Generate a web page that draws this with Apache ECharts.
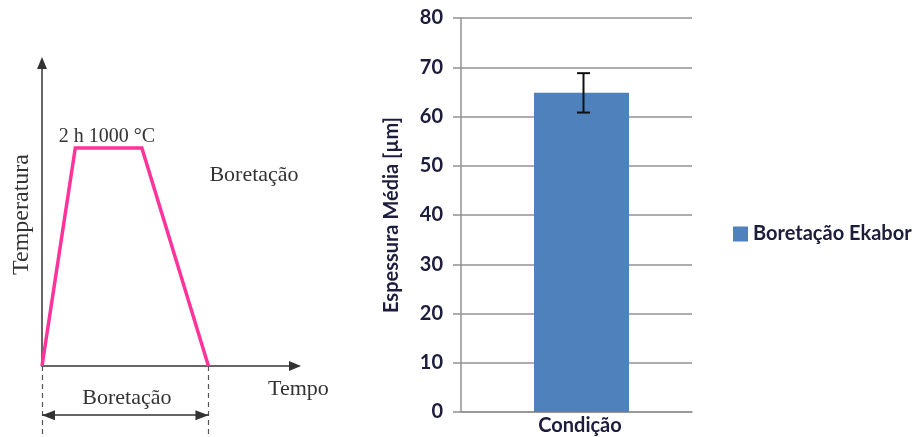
<!DOCTYPE html>
<html>
<head>
<meta charset="utf-8">
<script src="https://cdn.jsdelivr.net/npm/echarts@6/dist/echarts.min.js"></script>
<style>
  html, body { margin: 0; padding: 0; background: #fff; }
  #chart { width: 915px; height: 437px; }
</style>
</head>
<body>
<div id="chart"></div>
<script>
// Thermal cycle of the boriding treatment (schematic)
const profileTime = [0, 1, 3, 5];          // h
const profileTemp = [0, 1000, 1000, 0];    // °C
const holdLabel = '2 h 1000 °C';
const stageLabel = 'Boretação';

// Average boride layer thickness
const categories = ['Condição'];
const seriesName = 'Boretação Ekabor';
const thickness = [64.8];                  // µm
const thicknessErr = [4.0];                // µm

const serif = 'Liberation Serif, Times New Roman, serif';
const sans = 'Lato, Noto Sans, sans-serif';
const navy = '#1c1c3c';
const grey = '#929292';
const ink = '#333333';
const triangle = 'path://M5,0 L10,12 L0,12 Z';

const chart = echarts.init(document.getElementById('chart'), null, { renderer: 'canvas' });

const profile = profileTime.map((t, i) => [t, profileTemp[i]]);
const tStart = profileTime[0];
const tEnd = profileTime[profileTime.length - 1];
const tMid = (profileTime[1] + profileTime[2]) / 2;
const tHoldMax = profileTemp[1];

const hiddenAxis = { show: false };

chart.setOption({
  animation: false,
  backgroundColor: '#ffffff',
  grid: [
    { left: 42, top: 63, width: 253, height: 303 },   // thermal cycle
    { left: 461, top: 18, width: 231, height: 394 },  // thickness bars
    { left: 42, top: 366, width: 253, height: 69 }    // duration bracket under the cycle
  ],
  xAxis: [
    {
      gridIndex: 0, type: 'value', min: 0, max: 7.6,
      name: 'Tempo', nameLocation: 'end', nameGap: -27,
      nameTextStyle: { fontFamily: serif, fontSize: 22, color: ink, verticalAlign: 'top', padding: [12, 0, 0, 0] },
      axisLine: { show: true, onZero: true, symbol: ['none', triangle], symbolSize: [10, 13], lineStyle: { color: ink, width: 1.5 } },
      axisTick: { show: false }, axisLabel: { show: false }, splitLine: { show: false }
    },
    {
      gridIndex: 1, type: 'category', data: categories,
      axisLine: { show: true, lineStyle: { color: grey, width: 1.5 } },
      axisTick: { show: false },
      axisLabel: { margin: 4, padding: [0, 0, 0, 7], fontFamily: sans, fontWeight: 'bold', fontSize: 20, color: navy }
    },
    Object.assign({ gridIndex: 2, type: 'value', min: 0, max: 7.6 }, hiddenAxis)
  ],
  yAxis: [
    {
      gridIndex: 0, type: 'value', min: 0, max: 1390,
      name: 'Temperatura', nameLocation: 'middle', nameGap: 8, nameRotate: 90,
      nameTextStyle: { fontFamily: serif, fontSize: 24, color: ink },
      axisLine: { show: true, onZero: true, symbol: ['none', triangle], symbolSize: [10, 13], lineStyle: { color: ink, width: 1.5 } },
      axisTick: { show: false }, axisLabel: { show: false }, splitLine: { show: false }
    },
    {
      gridIndex: 1, type: 'value', min: 0, max: 80, interval: 10,
      name: 'Espessura Média [µm]', nameLocation: 'middle', nameGap: 59, nameRotate: 90,
      nameTextStyle: { fontFamily: sans, fontWeight: 'bold', fontSize: 20, color: navy },
      axisLine: { show: true, lineStyle: { color: grey, width: 1.5 } },
      axisTick: { show: true, inside: false, length: 8, lineStyle: { color: grey, width: 1.5 } },
      axisLabel: { margin: 18, fontFamily: sans, fontWeight: 'bold', fontSize: 20, color: navy },
      splitLine: { show: true, lineStyle: { color: grey, width: 1.5 } }
    },
    Object.assign({ gridIndex: 2, type: 'value', min: -316, max: 0 }, hiddenAxis)
  ],
  legend: {
    data: [seriesName],
    orient: 'vertical', left: 733, top: 224, padding: 0,
    itemWidth: 15, itemHeight: 15, itemGap: 5, icon: 'rect',
    textStyle: { fontFamily: sans, fontWeight: 'bold', fontSize: 20, color: navy }
  },
  series: [
    {
      type: 'line', xAxisIndex: 0, yAxisIndex: 0, data: profile,
      silent: true, symbol: 'none',
      lineStyle: { color: '#ff3399', width: 3.5, join: 'miter' },
      markPoint: {
        silent: true, symbol: 'circle', symbolSize: 0, animation: false,
        label: { show: true, fontFamily: serif, fontSize: 22, color: ink },
        data: [
          { coord: [tMid - 0.05, tHoldMax], value: holdLabel, label: { position: 'top', distance: 1, formatter: holdLabel, fontSize: 20 } },
          { coord: [tEnd, 876], value: stageLabel, label: { position: 'right', distance: 1, formatter: stageLabel } }
        ]
      }
    },
    {
      // dashed limits of the treatment and its duration arrow
      type: 'line', xAxisIndex: 2, yAxisIndex: 2, data: [[tStart, 0]],
      silent: true, symbol: 'none', lineStyle: { width: 0 },
      markLine: {
        silent: true, symbol: 'none', animation: false,
        label: { show: false },
        lineStyle: { color: '#555', width: 1.2, type: [5, 4] },
        data: [
          [{ coord: [tStart, 0] }, { coord: [tStart, -316] }],
          [{ coord: [tEnd, 0] }, { coord: [tEnd, -316] }],
          [
            { coord: [tStart, -225], symbol: triangle, symbolSize: [10, 13], symbolOffset: [0, 6.5], lineStyle: { type: 'solid', color: ink, width: 1.5 } },
            { coord: [tEnd, -225], symbol: triangle, symbolSize: [10, 13], symbolOffset: [0, 6.5] }
          ]
        ]
      },
      markPoint: {
        silent: true, symbol: 'circle', symbolSize: 0, animation: false,
        label: { show: true, fontFamily: serif, fontSize: 22, color: ink },
        data: [
          { coord: [tEnd / 2 + 0.05, -147], value: stageLabel, label: { position: 'inside', formatter: stageLabel } }
        ]
      }
    },
    {
      name: seriesName, type: 'custom', xAxisIndex: 1, yAxisIndex: 1,
      data: thickness.map((v, i) => [i, v]),
      encode: { x: 0, y: 1 },
      itemStyle: { color: '#4f81bd' },
      renderItem: function (params, api) {
        const top = api.coord([api.value(0), api.value(1)]);
        const base = api.coord([api.value(0), 0]);
        const w = 95, shift = 5;
        return {
          type: 'rect',
          shape: { x: top[0] - w / 2 + shift, y: top[1], width: w, height: base[1] - top[1] },
          style: { fill: api.visual('color') }
        };
      }
    },
    {
      name: 'erro', type: 'custom', xAxisIndex: 1, yAxisIndex: 1, z: 5,
      data: thickness.map((v, i) => [i, v - thicknessErr[i], v + thicknessErr[i]]),
      encode: { x: 0, y: [1, 2] },
      renderItem: function (params, api) {
        const x = api.value(0);
        const lo = api.coord([x, api.value(1)]);
        const hi = api.coord([x, api.value(2)]);
        const shift = 7, half = 6.5;
        const cx = lo[0] + shift;
        const style = { stroke: '#111', lineWidth: 2 };
        return {
          type: 'group',
          children: [
            { type: 'line', shape: { x1: cx, y1: lo[1], x2: cx, y2: hi[1] }, style: style },
            { type: 'line', shape: { x1: cx - half, y1: lo[1], x2: cx + half, y2: lo[1] }, style: style },
            { type: 'line', shape: { x1: cx - half, y1: hi[1], x2: cx + half, y2: hi[1] }, style: style }
          ]
        };
      }
    }
  ]
});
</script>
</body>
</html>
